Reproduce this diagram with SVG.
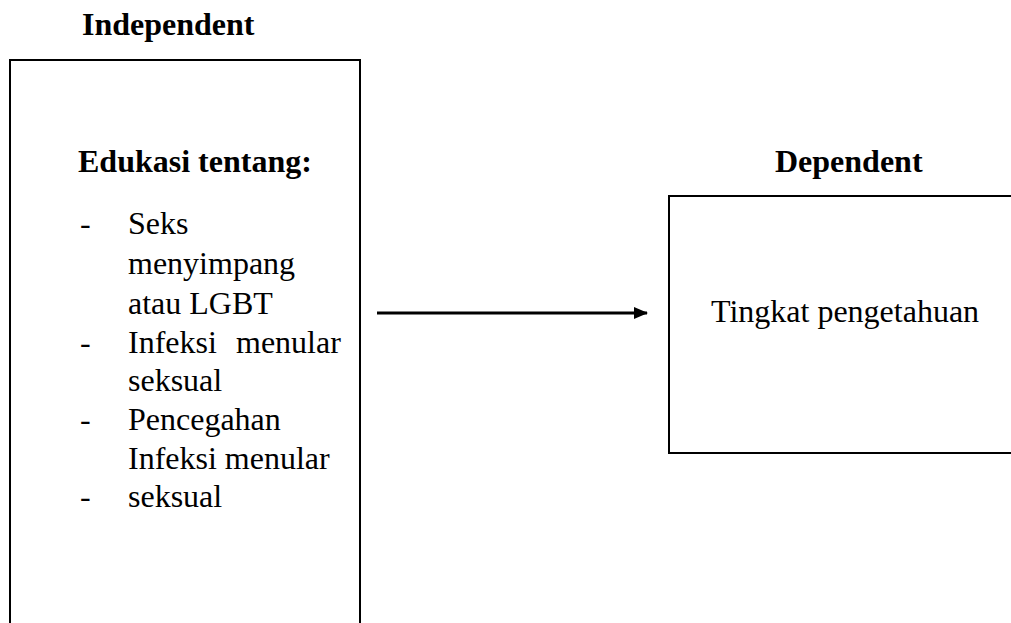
<svg xmlns="http://www.w3.org/2000/svg" width="1011" height="623" viewBox="0 0 1011 623">
<style>
.t{font-family:"Liberation Serif","Times New Roman",serif;font-size:32px;fill:#000}
.b{font-weight:bold}
.box{fill:none;stroke:#000;stroke-width:2}
</style>
<defs>
<marker id="ah" markerWidth="14" markerHeight="14" refX="13" refY="7" orient="auto" markerUnits="userSpaceOnUse">
<path d="M0,1 L14,7 L0,13 Z" fill="#000"/>
</marker>
</defs>
<rect width="1011" height="623" fill="#fff"/>
<text class="t b" x="82" y="35">Independent</text>
<g id="independent">
<rect class="box" x="10" y="60" width="350" height="580"/>
<text class="t b" x="78" y="172">Edukasi tentang:</text>
<text class="t" x="80" y="234">-</text>
<text class="t" x="128" y="234">Seks</text>
<text class="t" x="128" y="274">menyimpang</text>
<text class="t" x="128" y="314">atau LGBT</text>
<text class="t" x="80" y="353">-</text>
<text class="t" x="128" y="353">Infeksi</text>
<text class="t" x="236" y="353">menular</text>
<text class="t" x="128" y="391">seksual</text>
<text class="t" x="80" y="430">-</text>
<text class="t" x="128" y="430">Pencegahan</text>
<text class="t" x="128" y="469">Infeksi menular</text>
<text class="t" x="80" y="507">-</text>
<text class="t" x="128" y="507">seksual</text>
</g>
<text class="t b" x="775" y="172">Dependent</text>
<g id="dependent">
<rect class="box" x="669" y="196" width="360" height="257"/>
<text class="t" x="711" y="322">Tingkat pengetahuan</text>
</g>
<g id="connectors">
<line x1="377" y1="313" x2="647" y2="313" stroke="#000" stroke-width="3" marker-end="url(#ah)"/>
</g>
</svg>
